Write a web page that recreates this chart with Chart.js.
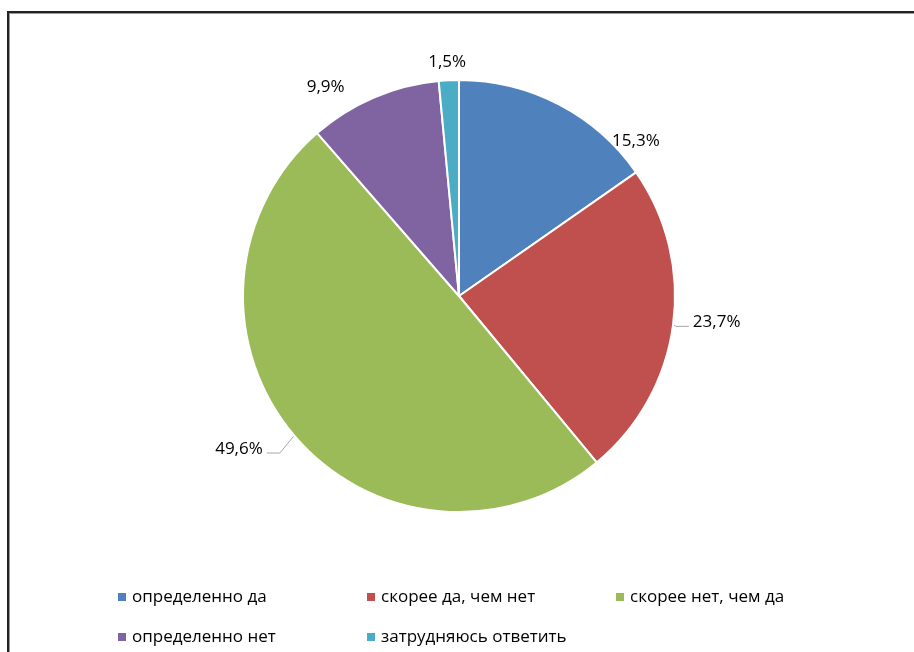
<!DOCTYPE html>
<html>
<head>
<meta charset="utf-8">
<script src="https://cdn.jsdelivr.net/npm/chart.js@4/dist/chart.umd.min.js"></script>
<style>
    body { margin: 0; background: #fff; }
    #wrap { position: relative; width: 914px; height: 652px; overflow: hidden; }
    #frame {
        position: absolute; left: 7px; top: 11px; width: 1000px; height: 800px;
        border-left: 2px solid #222; border-top: 2px solid #222;
        box-shadow: inset 1px 1px 0 #999;
    }
    #chart { position: absolute; left: 0; top: 0; }
    #legend { position: absolute; left: 0; top: 0; font-family: 'Open Sans', sans-serif; font-size: 17px; color: #000; }
    .item { position: absolute; white-space: nowrap; line-height: 20px; }
    .box { display: inline-block; width: 8px; height: 8px; margin-right: 6px; vertical-align: 1px; }
</style>
</head>
<body>
<div id="wrap">
    <div id="frame"></div>
    <canvas id="chart" width="914" height="652"></canvas>
    <div id="legend"></div>
</div>
<script>
// Chart data
const categories = ['определенно да', 'скорее да, чем нет', 'скорее нет, чем да', 'определенно нет', 'затрудняюсь ответить'];
const shares = [15.3, 23.7, 49.6, 9.9, 1.5];
const sliceColors = ['#4F81BD', '#C0504D', '#9BBB59', '#8064A2', '#4BACC6'];

// Label placement per slice: angle shift (deg, from slice middle) and distance from centre
const labelPlacement = [
    { shift: 21.3, dist: 235, leader: false },
    { shift: -1.9, dist: 259, leader: true },
    { shift: 5.5, dist: 268, leader: true },
    { shift: -9.3, dist: 248, leader: false },
    { shift: -0.2, dist: 234, leader: false }
];

const fmt = v => v.toFixed(1).replace('.', ',') + '%';

// Draws the outside data labels with small leader lines
const outsideLabels = {
    id: 'outsideLabels',
    afterDatasetsDraw(chart) {
        const ctx = chart.ctx;
        const meta = chart.getDatasetMeta(0);
        ctx.save();
        ctx.font = "17px 'Open Sans', sans-serif";
        ctx.fillStyle = '#000';
        ctx.textBaseline = 'middle';
        ctx.textAlign = 'center';
        meta.data.forEach((arc, i) => {
            const p = labelPlacement[i];
            const mid = (arc.startAngle + arc.endAngle) / 2;
            const la = mid + p.shift * Math.PI / 180;
            const lx = arc.x + Math.cos(la) * p.dist;
            const ly = arc.y + Math.sin(la) * p.dist;
            const text = fmt(shares[i]);
            if (p.leader) {
                const half = ctx.measureText(text).width / 2;
                const dir = Math.cos(la) > 0 ? 1 : -1;
                const sx = arc.x + Math.cos(mid) * (arc.outerRadius + 1);
                const sy = arc.y + Math.sin(mid) * (arc.outerRadius + 1);
                const endX = lx - dir * (half + 4);
                const endY = ly + 4;
                ctx.strokeStyle = '#a6a6a6';
                ctx.lineWidth = 1;
                ctx.beginPath();
                ctx.moveTo(sx, sy);
                ctx.lineTo(endX - dir * 13, endY);
                ctx.lineTo(endX, endY);
                ctx.stroke();
            }
            ctx.fillText(text, lx, ly);
        });
        ctx.restore();
    }
};

new Chart(document.getElementById('chart'), {
    type: 'pie',
    data: {
        labels: categories,
        datasets: [{
            data: shares,
            backgroundColor: sliceColors,
            borderColor: '#fff',
            borderWidth: 2
        }]
    },
    options: {
        responsive: false,
        animation: false,
        layout: { padding: { left: 100, right: 96, top: 79, bottom: 139 } },
        plugins: {
            legend: { display: false },
            tooltip: { enabled: false }
        }
    },
    plugins: [outsideLabels]
});

// Legend in three columns, two rows
const legend = document.getElementById('legend');
categories.forEach((name, i) => {
    const el = document.createElement('div');
    el.className = 'item';
    el.style.left = (118 + (i % 3) * 249) + 'px';
    el.style.top = (586 + Math.floor(i / 3) * 40) + 'px';
    el.innerHTML = '<span class="box" style="background:' + sliceColors[i] + '"></span>' + name;
    legend.appendChild(el);
});
</script>
</body>
</html>
